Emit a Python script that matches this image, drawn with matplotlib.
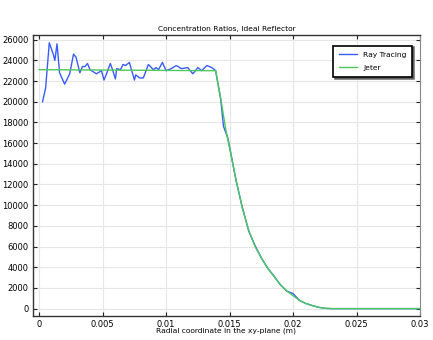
import matplotlib
matplotlib.use("Agg")
import matplotlib.pyplot as plt
import numpy as np

# Ray tracing result
ray_x = [0.00026, 0.0005, 0.00079, 0.0011, 0.00123, 0.0014, 0.0016, 0.002, 0.0024,
         0.0027, 0.0029, 0.0032, 0.0034, 0.0036, 0.0038, 0.004, 0.0045, 0.0049,
         0.0051, 0.0053, 0.0056, 0.0058, 0.006, 0.0061, 0.0064, 0.0066, 0.0068,
         0.0071, 0.0075, 0.0076, 0.0079, 0.0082, 0.0086, 0.009, 0.0092, 0.0094,
         0.0097, 0.01, 0.0104, 0.0108, 0.0112, 0.0117, 0.0121, 0.0125, 0.0128,
         0.0132, 0.0136, 0.0139, 0.0143, 0.01452, 0.01486, 0.0151, 0.0155, 0.016,
         0.0165, 0.017, 0.0175, 0.018, 0.0185, 0.019, 0.0195, 0.02, 0.0205, 0.021,
         0.0215, 0.022, 0.0225, 0.023, 0.025, 0.0275, 0.03]
ray_y = [20000, 21300, 25700, 24600, 24000, 25600, 22800, 21700, 22700,
         24600, 24300, 22800, 23400, 23400, 23700, 23100, 22700, 23000,
         22100, 22700, 23700, 23000, 22200, 23200, 23100, 23600, 23500,
         23800, 22100, 22600, 22300, 22300, 23600, 23100, 23300, 23100,
         23800, 23000, 23200, 23500, 23200, 23300, 22700, 23300, 23000,
         23500, 23300, 23000, 20200, 17600, 16500, 15000, 12400, 9800,
         7500, 6100, 4900, 3900, 3150, 2300, 1700, 1450, 800, 500,
         300, 130, 30, 0, 0, 0, 0]

# Jeter analytical curve
jeter_x = [0.0, 0.0139, 0.0143, 0.0147, 0.0151, 0.0155, 0.016, 0.0165, 0.017,
           0.0175, 0.018, 0.0185, 0.019, 0.0195, 0.02, 0.0205, 0.021, 0.0215,
           0.022, 0.0225, 0.023, 0.03]
jeter_y = [23100, 23000, 20300, 17300, 14900, 12500, 9700, 7600, 6000,
           4900, 3900, 3100, 2300, 1700, 1250, 800, 500, 300,
           130, 30, 0, 0]

x_ticks = [0, 0.005, 0.01, 0.015, 0.02, 0.025, 0.03]
x_labels = ["0", "0.005", "0.01", "0.015", "0.02", "0.025", "0.03"]
y_ticks = list(range(0, 26001, 2000))

plt.rcParams["font.family"] = "DejaVu Sans"
plt.rcParams["font.size"] = 6

fig = plt.figure(figsize=(4.33, 3.4), dpi=100)
ax = fig.add_axes([0.076, 0.071, 0.894, 0.826])

ax.plot(ray_x, ray_y, color="#3a5cff", linewidth=1.0, label="Ray Tracing")
ax.plot(jeter_x, jeter_y, color="#4cc95a", linewidth=1.0, label="Jeter")

ax.set_xlim(-0.0005, 0.0300)
ax.set_ylim(-700, 26450)
ax.set_xticks(x_ticks)
ax.set_xticklabels(x_labels)
ax.set_yticks(y_ticks)
ax.tick_params(direction="in", length=3, width=0.8, top=True, right=True,
               labeltop=False, labelright=False, pad=3, colors="#222222",
               labelcolor="black")
ax.grid(True, color="#e6e6e6", linewidth=0.8)
ax.set_axisbelow(True)

for side in ["left", "bottom", "top"]:
    ax.spines[side].set_linewidth(1.0)
    ax.spines[side].set_color("#333333")
ax.spines["right"].set_linewidth(0.8)
ax.spines["right"].set_color("#888888")

ax.set_title("Concentration Ratios, Ideal Reflector", fontsize=5.4, pad=3)
ax.set_xlabel("Radial coordinate in the xy-plane (m)", fontsize=5.4, labelpad=-1)

leg = ax.legend(loc="upper right", bbox_to_anchor=(0.99, 0.975), fontsize=5.4,
                frameon=True, fancybox=False, handlelength=2.4,
                borderpad=0.8, labelspacing=0.9, handletextpad=0.8,
                edgecolor="black",
                shadow={"color": "#555555", "alpha": 0.8, "ox": 1.2, "oy": -1.2})
leg.get_frame().set_linewidth(1.2)

fig.savefig("out.png", dpi=100)
